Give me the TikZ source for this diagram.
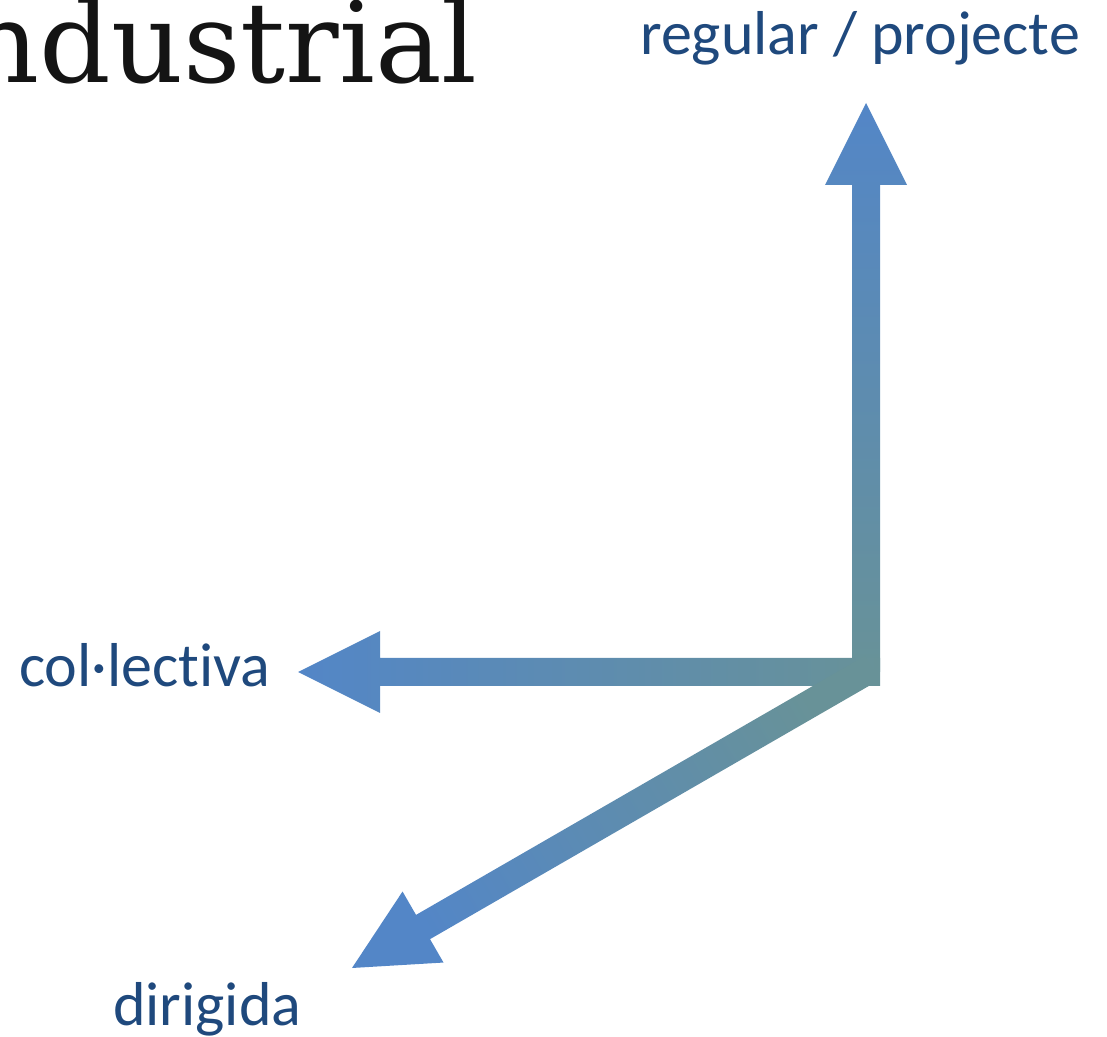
\documentclass[tikz,border=0pt]{standalone}
\usepackage{fontspec}
\setmainfont[Ligatures=NoCommon]{Carlito}
\newfontfamily\titlefont{DejaVu Serif}
\usepackage{tikz}
\usetikzlibrary{calc}
\definecolor{arrowtip}{RGB}{83,134,199}
\definecolor{arrowbase}{RGB}{104,146,152}
\definecolor{labelblue}{RGB}{31,73,125}
\tikzstyle{axislabel}=[inner sep=0pt, anchor=base west, text=labelblue, font=\fontsize{62}{70}\selectfont]
\tikzstyle{fatarrow}=[top color=arrowtip, bottom color=arrowbase]

\begin{document}
\begin{tikzpicture}[x=1pt,y=1pt]
\useasboundingbox (0,0) rectangle (1107,1036);
\node[inner sep=0pt, anchor=base east, text=black!92, font=\titlefont\fontsize{112}{120}\selectfont] (title) at (478,953) {ndustrial};
\coordinate (o) at (866,364);
\coordinate (oh) at (880,364);
\coordinate (od) at (872,368);
\coordinate (up) at (866,933);
\coordinate (left) at (298,364);
\coordinate (down) at (352,68);
\foreach \src/\tip/\ang in {o/up/0, oh/left/90, od/down/119.9} {
 \coordinate (h) at ($(\tip)!82pt!(\src)$);
 \shade[fatarrow, shading angle=\ang] ($(\src)!14pt!90:(\tip)$) -- ($(h)!14pt!90:(\tip)$) -- ($(h)!41pt!90:(\tip)$) -- (\tip)
   -- ($(h)!41pt!-90:(\tip)$) -- ($(h)!14pt!-90:(\tip)$) -- ($(\src)!14pt!-90:(\tip)$) -- cycle;
}
\node[axislabel] (regular) at (640,981) {regular / projecte};
\node[axislabel] (collectiva) at (19,349) {col·lectiva};
\node[axislabel] (dirigida) at (113,11) {dirigida};
\end{tikzpicture}
\end{document}
